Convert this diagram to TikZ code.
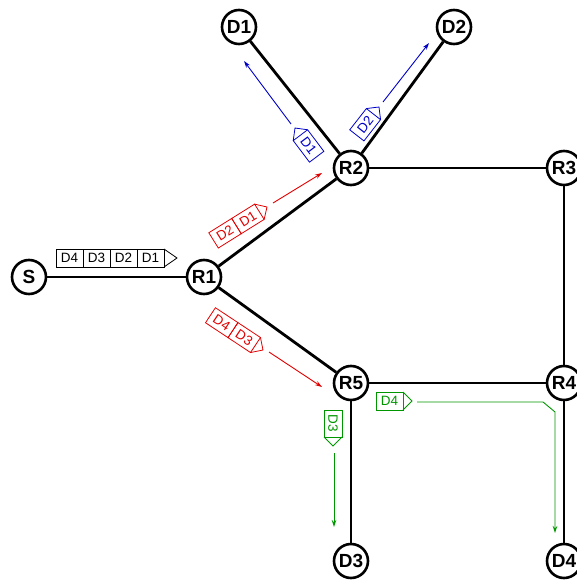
\documentclass[tikz,border=0pt]{standalone}
\usepackage{fontspec}
\setmainfont{Liberation Sans}
\usetikzlibrary{arrows.meta}
\definecolor{pred}{RGB}{225,0,0}
\definecolor{pblue}{RGB}{0,0,200}
\definecolor{pgreen}{RGB}{0,150,0}
\newcommand\pktfont{\fontsize{13.5}{15}\selectfont}
% color, tip position, angle, number of cells, labels, extra text rotation, tip length
\newcommand\pkt[7]{%
\begin{scope}[shift={#2},rotate=#3,color=#1,line width=0.8pt]
  \draw (-#7,9) -- (0,0) -- (-#7,-9);
  \foreach \l [count=\i] in {#5} {
    \pgfmathsetmacro\cx{-#7-(#4-\i+0.5)*27}
    \draw (\cx-13.5,-9) rectangle (\cx+13.5,9);
    \node[rotate=#3+#6,font=\pktfont,inner sep=0pt] at (\cx,0) {\l};
  }
\end{scope}}
\begin{document}
\begin{tikzpicture}[x=1pt,y=1pt,
  router/.style={circle,draw,line width=2.6pt,minimum size=34pt,inner sep=0pt,fill=white,
    font=\fontsize{19}{20}\selectfont\bfseries},
  link/.style={line width=2.8pt},
  flow/.style={line width=0.9pt,-{Stealth[length=7pt,width=4.5pt]}}]
\useasboundingbox (0,0) rectangle (577,-580);
\clip (0,0) rectangle (577,-580);
\node[router] (S)  at (29,-277) {S};
\node[router] (R1) at (204,-277) {R1};
\node[router] (R2) at (351,-168) {R2};
\node[router] (R3) at (564,-168) {R3};
\node[router] (R4) at (564,-383) {R4};
\node[router] (R5) at (351,-383) {R5};
\node[router] (D1) at (239,-27) {D1};
\node[router] (D2) at (454,-27) {D2};
\node[router] (D3) at (351,-561) {D3};
\node[router] (D4) at (564,-561) {D4};
\foreach \a/\b in {S/R1,R1/R2,R1/R5,R2/D1,R2/D2,R2/R3,R3/R4,R5/R4,R5/D3,R4/D4}
  \draw[link] (\a) -- (\b);
% packets
\pkt{black}{(177,-258)}{0}{4}{D4,D3,D2,D1}{0}{13}
\pkt{pred}{(267,-207)}{32}{2}{D2,D1}{0}{9}
\pkt{pred}{(263,-350)}{-33.5}{2}{D4,D3}{0}{9}
\pkt{pblue}{(295,-128)}{127}{1}{D1}{180}{9}
\pkt{pblue}{(379,-107)}{52}{1}{D2}{0}{9}
\pkt{pgreen}{(333,-446)}{-90}{1}{D3}{0}{9}
\pkt{pgreen}{(412,-401)}{0}{1}{D4}{0}{9}
% flow arrows
\coordinate (r1a) at (273,-203); \coordinate (r1b) at (322,-173);
\coordinate (r5a) at (269,-352); \coordinate (r5b) at (322,-387);
\coordinate (b1a) at (291,-124); \coordinate (b1b) at (244,-61);
\coordinate (b2a) at (383,-102); \coordinate (b2b) at (429,-43);
\coordinate (g3a) at (334,-453); \coordinate (g3b) at (334,-527);
\coordinate (g4a) at (417,-402); \coordinate (g4b) at (543,-402);
\coordinate (g4c) at (555,-412); \coordinate (g4d) at (555,-533);
\draw[flow,pred] (r1a) -- (r1b);
\draw[flow,pred] (r5a) -- (r5b);
\draw[flow,pblue] (b1a) -- (b1b);
\draw[flow,pblue] (b2a) -- (b2b);
\draw[flow,pgreen] (g3a) -- (g3b);
\draw[flow,pgreen] (g4a) -- (g4b) -- (g4c) -- (g4d);
\end{tikzpicture}
\end{document}
